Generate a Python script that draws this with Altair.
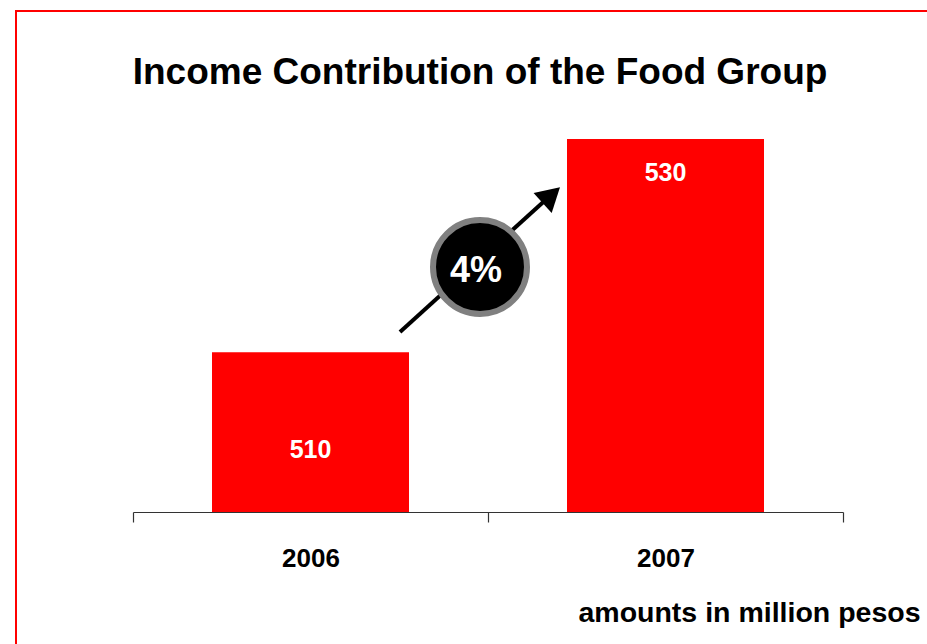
import altair as alt
import pandas as pd

years = ["2006", "2007"]
values = [510, 530]
title_text = "Income Contribution of the Food Group"
unit_text = "amounts in million pesos"

FONT = "Liberation Sans"
RED = "#ff0000"

df = pd.DataFrame({"year": years, "value": values})
growth = round((values[1] - values[0]) / values[0] * 100)
ann = pd.DataFrame({"pct": [f"{growth}%"], "title": [title_text]})

x_enc = alt.X(
    "year:N",
    sort=years,
    scale=alt.Scale(paddingInner=0, paddingOuter=0),
    axis=alt.Axis(
        title=unit_text,
        titleX=787,
        titleY=109,
        titleAlign="right",
        titleBaseline="alphabetic",
        titleFont=FONT,
        titleFontSize=28.5,
        titleFontWeight="bold",
        titleColor="black",
        labelAngle=0,
        labelFont=FONT,
        labelFontSize=26,
        labelFontWeight="bold",
        labelColor="black",
        labelBaseline="alphabetic",
        labelPadding=44,
        tickSize=10,
        tickBand="extent",
        domainColor="#333333",
        tickColor="#333333",
        domainWidth=1.2,
        tickWidth=1.2,
        grid=False,
    ),
)
y_enc = alt.Y(
    "value:Q",
    scale=alt.Scale(domain=[495, 530], zero=False, nice=False),
    axis=None,
)

base = alt.Chart(df)

bars = base.mark_bar(color=RED, width=197).encode(x=x_enc, y=y_enc, y2=alt.datum(495))

lab_2006 = (
    base.transform_filter(alt.datum.year == years[0])
    .mark_text(font=FONT, fontSize=25, fontWeight="bold", color="white",
               baseline="alphabetic", dy=106)
    .encode(x=x_enc, y=y_enc, text="value:Q")
)
lab_2007 = (
    base.transform_filter(alt.datum.year == years[1])
    .mark_text(font=FONT, fontSize=25, fontWeight="bold", color="white",
               baseline="alphabetic", dy=42)
    .encode(x=x_enc, y=y_enc, text="value:Q")
)

annb = alt.Chart(ann)

shaft = annb.mark_rule(color="black", strokeWidth=4).encode(
    x=alt.value(267), y=alt.value(193), x2=alt.value(418), y2=alt.value(56)
)
head = annb.mark_point(shape="triangle-up", size=729, angle=47.9,
                       filled=True, color="black", opacity=1).encode(
    x=alt.value(418.3), y=alt.value(56.1)
)
circle = annb.mark_point(shape="circle", size=8836, filled=True, fill="black",
                         stroke="#808080", strokeWidth=6, opacity=1).encode(
    x=alt.value(347), y=alt.value(128)
)
pct = annb.mark_text(font=FONT, fontSize=36, fontWeight="bold", color="white",
                     baseline="alphabetic").encode(
    x=alt.value(343), y=alt.value(142.7), text="pct:N"
)
title = annb.mark_text(font=FONT, fontSize=37, fontWeight="bold", color="black",
                       baseline="alphabetic", align="center").encode(
    x=alt.value(347), y=alt.value(-55), text="title:N"
)
border = annb.mark_rect(fill=None, fillOpacity=0, stroke=RED, strokeWidth=2,
                        clip=False).encode(
    x=alt.value(-117), y=alt.value(-128), x2=alt.value(830), y2=alt.value(530)
)

chart = (
    alt.layer(bars, lab_2006, lab_2007, shaft, circle, pct, head, title, border)
    .properties(
        width=710,
        height=373,
        background="white",
        autosize=alt.AutoSizeParams(type="none"),
        padding={"left": 133, "top": 139, "right": 84, "bottom": 132},
    )
    .configure_view(stroke="transparent", strokeWidth=0)
)

chart.save("out.html", embed_options={"renderer": "svg", "actions": False})
